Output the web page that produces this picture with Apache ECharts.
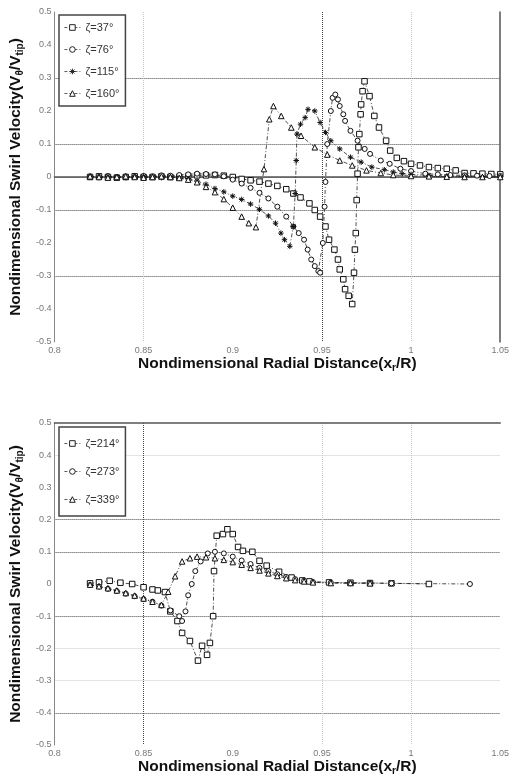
<!DOCTYPE html>
<html><head><meta charset="utf-8">
<script src="https://cdn.jsdelivr.net/npm/echarts@6/dist/echarts.min.js"></script>
<style>html,body{margin:0;padding:0;background:#fff}#c{width:512px;height:777px}</style>
</head><body><div id="c"></div><script>
const xTickLabels = ['0.8','0.85','0.9','0.95','1','1.05'];
const yTickLabels = ['-0.5','-0.4','-0.3','-0.2','-0.1','0','0.1','0.2','0.3','0.4','0.5'];
const topNames = ['ζ=37°','ζ=76°','ζ=115°','ζ=160°'];
const botNames = ['ζ=214°','ζ=273°','ζ=339°'];

// top chart, zeta = 37 deg
const x37 = [0.82,0.825,0.83,0.835,0.84,0.845,0.85,0.855,0.86,0.865,0.87,0.875,0.88,0.885,0.89,0.895,0.9,0.905,0.91,0.915,0.92,0.925,0.93,
  0.934,0.938,0.943,0.946,0.949,0.952,0.954,0.957,0.959,0.96,0.962,0.963,0.965,0.967,
  0.968,0.9685,0.969,0.9695,0.97,0.9705,0.971,0.9717,0.972,0.9728,0.9739,
  0.9767,0.9794,0.982,0.986,0.9883,0.992,0.996,
  1.0,1.005,1.01,1.015,1.02,1.025,1.03,1.035,1.04,1.045,1.05];
const y37 = [0,0.002,0,-0.002,0,0.002,0,0,0.002,0,0,0.003,0.005,0.005,0.006,0.004,0,-0.006,-0.01,-0.014,-0.02,-0.027,-0.037,
  -0.05,-0.062,-0.08,-0.1,-0.12,-0.15,-0.19,-0.22,-0.25,-0.28,-0.31,-0.34,-0.36,-0.385,
  -0.29,-0.22,-0.17,-0.07,0.01,0.09,0.13,0.19,0.22,0.26,0.29,
  0.245,0.185,0.15,0.11,0.08,0.058,0.048,
  0.04,0.035,0.03,0.027,0.025,0.02,0.012,0.011,0.01,0.009,0.008];
// zeta = 76 deg
const x76 = [0.82,0.825,0.83,0.835,0.84,0.845,0.85,0.855,0.86,0.865,0.87,0.875,0.88,0.885,0.89,0.895,
  0.9,0.905,0.91,0.915,0.92,0.925,0.93,0.934,0.937,0.94,0.942,0.944,0.946,0.948,0.949,
  0.9505,0.9515,0.952,0.953,0.955,0.956,0.9575,0.959,0.96,0.962,
  0.963,0.966,0.97,0.974,0.977,0.983,0.988,0.994,1.0,1.008,1.015,1.022,1.03,1.037,1.044,1.05];
const y76 = [0.002,0,0.003,0,0.002,0,0.003,0.002,0.005,0.004,0.006,0.008,0.01,0.009,0.008,0.002,
  -0.008,-0.02,-0.033,-0.048,-0.065,-0.09,-0.12,-0.15,-0.17,-0.19,-0.22,-0.25,-0.27,-0.285,-0.29,
  -0.2,-0.09,-0.015,0.1,0.2,0.24,0.25,0.235,0.215,0.19,
  0.17,0.14,0.11,0.085,0.07,0.05,0.04,0.025,0.018,0.01,0.008,0.006,0.005,0.004,0.003,0.003];
// zeta = 115 deg
const x115 = [0.82,0.825,0.83,0.835,0.84,0.845,0.85,0.855,0.86,0.865,0.87,0.875,
  0.88,0.885,0.89,0.895,0.9,0.905,0.91,0.915,0.92,0.924,0.927,0.929,0.932,
  0.934,0.935,0.9356,0.936,0.938,0.9406,0.9422,0.946,0.949,0.952,0.955,
  0.96,0.966,0.972,0.978,0.985,0.99,0.995,1.0,1.01,1.02,1.03,1.04,1.05];
const y115 = [0,-0.002,0.002,0,-0.002,0,0.002,0,-0.002,0,-0.003,-0.005,
  -0.012,-0.022,-0.035,-0.045,-0.058,-0.068,-0.082,-0.098,-0.118,-0.14,-0.17,-0.19,-0.21,
  -0.15,-0.05,0.05,0.13,0.16,0.18,0.205,0.2,0.165,0.135,0.11,
  0.085,0.06,0.045,0.03,0.022,0.015,0.01,0.008,0.005,0.003,0.002,0.001,0];
// zeta = 160 deg
const x160 = [0.82,0.825,0.83,0.835,0.84,0.845,0.85,0.855,0.86,0.865,
  0.87,0.875,0.88,0.885,0.89,0.895,0.9,0.905,0.909,0.913,
  0.9175,0.9205,0.9228,0.9272,0.9328,0.9383,0.946,0.953,0.96,0.967,0.975,0.983,0.99,1.0,1.01,1.02,1.03,1.04,1.05];
const y160 = [0.002,0,-0.002,0,0.002,0,-0.002,0,0.002,0,
  -0.003,-0.008,-0.016,-0.03,-0.046,-0.067,-0.093,-0.12,-0.14,-0.152,
  0.024,0.175,0.215,0.185,0.15,0.125,0.09,0.068,0.05,0.035,0.02,0.012,0.006,0.003,0.002,0.001,0,0,0];

// bottom chart, zeta = 214 deg
const x214 = [0.82,0.825,0.831,0.837,0.8436,0.85,0.855,0.858,0.862,0.865,0.869,0.8716,0.876,0.8805,0.8828,0.8856,0.8872,0.889,0.8895,
  0.891,0.8945,0.897,0.9,0.903,0.9057,0.911,0.915,0.919,0.926,0.933,0.939,0.943,0.954,0.966,0.977,0.989,1.01];
const y214 = [0.002,0.005,0.01,0.004,0,-0.01,-0.017,-0.02,-0.025,-0.085,-0.115,-0.152,-0.177,-0.238,-0.192,-0.22,-0.183,-0.1,0.04,
  0.15,0.155,0.17,0.155,0.115,0.103,0.1,0.072,0.057,0.038,0.02,0.011,0.008,0.005,0.004,0.003,0.002,0];
// zeta = 273 deg
const x273 = [0.82,0.825,0.83,0.835,0.84,0.845,0.85,0.855,0.86,0.865,0.87,0.8716,0.8735,0.875,0.877,0.879,0.882,0.886,0.89,
  0.895,0.9,0.905,0.91,0.915,0.92,0.925,0.93,0.935,0.94,0.945,0.955,0.966,0.977,0.989,1.033];
const y273 = [-0.003,-0.008,-0.015,-0.022,-0.03,-0.038,-0.047,-0.055,-0.067,-0.082,-0.1,-0.115,-0.085,-0.035,0,0.04,0.07,0.095,0.1,
  0.095,0.085,0.073,0.062,0.05,0.04,0.03,0.022,0.015,0.01,0.006,0.004,0.002,0.003,0.002,0];
// zeta = 339 deg
const x339 = [0.82,0.825,0.83,0.835,0.84,0.845,0.85,0.855,0.86,0.8638,0.8677,0.8716,0.876,0.88,0.885,0.89,0.895,0.9,0.905,
  0.91,0.915,0.92,0.925,0.93,0.935,0.94,0.945,0.955,0.966,0.977];
const y339 = [-0.002,-0.007,-0.013,-0.02,-0.028,-0.036,-0.045,-0.055,-0.065,-0.024,0.024,0.07,0.08,0.085,0.083,0.08,0.075,0.068,0.06,
  0.05,0.042,0.033,0.025,0.018,0.012,0.008,0.005,0.003,0.003,0.002];

const zip = (xs, ys) => xs.map((x, i) => [x, ys[i]]);
const STAR = 'path://M5,0L5,10M0,5L10,5M1.5,1.5L8.5,8.5M8.5,1.5L1.5,8.5';
const DK = '#444', LT = '#c8c8c8', NO = 'rgba(0,0,0,0)';
const fmtX = v => xTickLabels[Math.round((v - 0.8) / 0.05)];
const fmtY = v => yTickLabels[Math.round((v + 0.5) / 0.1)];
const labelStyle = {fontSize: 9, color: '#777', fontFamily: 'Liberation Sans, Arial'};
const richName = {
  n: {fontSize: 15.5, fontWeight: 'bold', color: '#111', fontFamily: 'Liberation Sans, Arial'},
  s: {fontSize: 10, fontWeight: 'bold', color: '#111', fontFamily: 'Liberation Sans, Arial', padding: [8, 0, 0, 0]}
};
const xName = '{n|Nondimensional Radial Distance(x}{s|r}{n|/R)}';
const yName = '{n|Nondimensional Swirl Velocity(V}{s|θ}{n|/V}{s|tip}{n|)}';

function xAx(grid, colors, gap) {
  return {gridIndex: grid, type: 'value', min: 0.8, max: 1.05, interval: 0.05,
    axisLine: {show: false}, axisTick: {show: false},
    axisLabel: Object.assign({formatter: fmtX, margin: 4}, labelStyle),
    splitLine: {show: true, lineStyle: {color: colors, type: 'dotted', width: 1}},
    name: xName, nameLocation: 'middle', nameGap: gap, nameTextStyle: {rich: richName}};
}
function yAx(grid, colors) {
  return {gridIndex: grid, type: 'value', min: -0.5, max: 0.5, interval: 0.1,
    axisLine: {show: true, lineStyle: {color: '#888', width: 1}}, axisTick: {show: false},
    axisLabel: Object.assign({formatter: fmtY, margin: 3}, labelStyle),
    splitLine: {show: true, lineStyle: {color: colors, type: 'dotted', width: 1}},
    name: yName, nameLocation: 'middle', nameGap: 27, nameRotate: 90, nameTextStyle: {rich: richName}};
}
function border(grid, pos) {
  return {gridIndex: grid, type: 'value', position: pos, min: pos === 'top' ? 0.8 : -0.5, max: pos === 'top' ? 1.05 : 0.5,
    axisLine: {show: true, lineStyle: {color: '#555', width: 1.5}}, axisTick: {show: false},
    axisLabel: {show: false}, splitLine: {show: false}};
}
function ser(name, xs, ys, sym, xi, yi) {
  return {name: name, type: 'line', data: zip(xs, ys), xAxisIndex: xi, yAxisIndex: yi,
    symbol: sym, symbolSize: sym === 'circle' ? 5 : 5.5, showAllSymbol: true,
    lineStyle: {color: '#222', width: 0.8, type: [4, 2, 1, 2]},
    itemStyle: {color: '#fff', borderColor: '#111', borderWidth: 1}};
}
const legendBase = {orient: 'vertical', left: 59, backgroundColor: '#fff', borderColor: '#444', borderWidth: 1.5,
  itemWidth: 16, itemHeight: 7,
  itemStyle: {color: '#fff', borderColor: '#222', borderWidth: 1},
  lineStyle: {color: '#333', width: 0.8, type: [3, 2]},
  textStyle: {fontSize: 11, color: '#333', fontFamily: 'Liberation Sans, Arial'}};

const chart = echarts.init(document.getElementById('c'), null, {renderer: 'canvas'});
chart.setOption({
  animation: false,
  backgroundColor: '#fff',
  grid: [
    {left: 54, top: 12, width: 449, height: 330},
    {left: 54, top: 423, width: 447, height: 325}
  ],
  xAxis: [
    xAx(0, [NO, LT, NO, DK, LT, NO], 4),
    border(0, 'top'),
    xAx(1, [NO, DK, NO, LT, LT, NO], 13),
    border(1, 'top')
  ],
  yAxis: [
    yAx(0, [NO, NO, DK, NO, DK, DK, DK, NO, DK, NO, NO]),
    border(0, 'right'),
    yAx(1, [NO, DK, LT, LT, DK, NO, DK, DK, NO, LT, NO])
  ],
  legend: [
    Object.assign({}, legendBase, {top: 15, data: topNames, itemGap: 11, padding: [7, 6, 7, 5]}),
    Object.assign({}, legendBase, {top: 427, data: botNames, itemGap: 17, padding: [11, 6, 11, 5]})
  ],
  series: [
    ser(topNames[0], x37, y37, 'rect', 0, 0),
    ser(topNames[1], x76, y76, 'circle', 0, 0),
    ser(topNames[2], x115, y115, STAR, 0, 0),
    ser(topNames[3], x160, y160, 'triangle', 0, 0),
    ser(botNames[0], x214, y214, 'rect', 2, 2),
    ser(botNames[1], x273, y273, 'circle', 2, 2),
    ser(botNames[2], x339, y339, 'triangle', 2, 2)
  ]
});
</script></body></html>
